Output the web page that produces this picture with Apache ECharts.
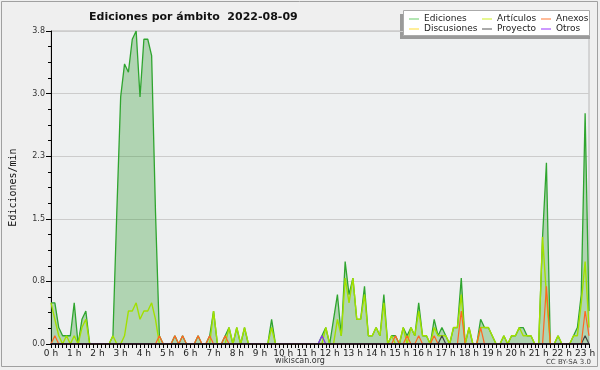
<!DOCTYPE html>
<html>
<head>
<meta charset="utf-8">
<script src="https://cdn.jsdelivr.net/npm/echarts@6/dist/echarts.min.js"></script>
<style>
html,body{margin:0;padding:0;background:#efefef;}
#c{width:600px;height:370px;}
</style>
</head>
<body>
<div id="c"></div>
<script>
// 10-minute steps from 0:00 to 23:10 (140 points), values in edits/min
const ediciones = [
  0.5,0.5,0.2,0.1,0.1,0.1,   // 0 h
  0.5,0,0.3,0.4,0,0,         // 1 h
  0,0,0,0,0.1,1.6,           // 2 h
  3.0,3.4,3.3,3.7,3.8,3.0,   // 3 h
  3.7,3.7,3.5,1.6,0.1,0,     // 4 h
  0,0,0.1,0,0.1,0,           // 5 h
  0,0,0.1,0,0,0.1,           // 6 h
  0.4,0,0,0.1,0.2,0,         // 7 h
  0.2,0,0.2,0,0,0,           // 8 h
  0,0,0,0.3,0,0,             // 9 h
  0,0,0,0,0,0,               // 10 h
  0,0,0,0,0.1,0.2,           // 11 h
  0,0.3,0.6,0.1,1.0,0.6,     // 12 h
  0.8,0.3,0.3,0.7,0.1,0.1,   // 13 h
  0.2,0.1,0.6,0,0.1,0.1,     // 14 h
  0,0.2,0.1,0.2,0.1,0.5,     // 15 h
  0.1,0.1,0,0.3,0.1,0.2,     // 16 h
  0.1,0,0.2,0.2,0.8,0,       // 17 h
  0.2,0,0,0.3,0.2,0.2,       // 18 h
  0.1,0,0,0.1,0,0.1,         // 19 h
  0.1,0.2,0.2,0.1,0.1,0,     // 20 h
  0,1.3,2.2,0,0,0.1,         // 21 h
  0,0,0,0.1,0.2,0.6,         // 22 h
  2.8,0.4                    // 23 h
];
const articulos = [
  0.5,0.3,0.1,0,0.1,0,       // 0 h
  0.1,0,0.2,0.3,0,0,         // 1 h
  0,0,0,0,0.1,0,             // 2 h
  0,0.1,0.4,0.4,0.5,0.3,     // 3 h
  0.4,0.4,0.5,0.3,0,0,       // 4 h
  0,0,0,0,0,0,               // 5 h
  0,0,0,0,0,0,               // 6 h
  0.4,0,0,0,0.2,0,           // 7 h
  0.2,0,0.2,0,0,0,           // 8 h
  0,0,0,0.2,0,0,             // 9 h
  0,0,0,0,0,0,               // 10 h
  0,0,0,0,0,0.2,             // 11 h
  0,0,0.3,0.1,0.8,0.5,       // 12 h
  0.8,0.3,0.3,0.6,0.1,0.1,   // 13 h
  0.2,0.1,0.5,0,0.1,0,       // 14 h
  0,0.2,0,0.2,0.1,0.4,       // 15 h
  0.1,0.1,0,0.2,0.1,0.1,     // 16 h
  0.1,0,0.2,0.2,0.6,0,       // 17 h
  0.2,0,0,0.2,0.2,0.2,       // 18 h
  0.1,0,0,0.1,0,0.1,         // 19 h
  0.1,0.2,0.1,0.1,0.1,0,     // 20 h
  0,1.3,0.6,0,0,0.1,         // 21 h
  0,0,0,0.1,0.1,0.5,         // 22 h
  1.0,0.2                    // 23 h
];
const anexos = [
  0,0.1,0,0,0,0,             // 0 h
  0,0,0,0,0,0,               // 1 h
  0,0,0,0,0,0,               // 2 h
  0,0,0,0,0,0,               // 3 h
  0,0,0,0,0.1,0,             // 4 h
  0,0,0.1,0,0.1,0,           // 5 h
  0,0,0.1,0,0,0.1,           // 6 h
  0,0,0,0.1,0,0,             // 7 h
  0,0,0,0,0,0,               // 8 h
  0,0,0,0,0,0,               // 9 h
  0,0,0,0,0,0,               // 10 h
  0,0,0,0,0,0,               // 11 h
  0,0,0,0,0,0,               // 12 h
  0,0,0,0,0,0,               // 13 h
  0,0,0,0,0,0.1,             // 14 h
  0,0,0.1,0,0,0.1,           // 15 h
  0,0,0,0.1,0,0,             // 16 h
  0,0,0,0,0.4,0,             // 17 h
  0,0,0,0.2,0,0,             // 18 h
  0,0,0,0,0,0,               // 19 h
  0,0,0,0,0,0,               // 20 h
  0,0,0.7,0,0,0,             // 21 h
  0,0,0,0,0,0,               // 22 h
  0.4,0.1                    // 23 h
];
const discusiones = [
  0,0,0,0,0,0,  0,0,0,0,0,0,  0,0,0,0,0,0,  0,0,0,0,0,0,   // 0-3 h
  0,0,0,0,0,0,  0,0,0,0,0,0,  0,0,0,0,0,0,  0,0,0,0,0,0,   // 4-7 h
  0,0,0,0,0,0,  0,0,0,0,0,0,  0,0,0,0,0,0,  0,0,0,0,0,0,   // 8-11 h
  0,0,0,0,0,0,  0,0,0,0,0,0,  0,0,0,0,0,0,  0,0,0,0,0,0,   // 12-15 h
  0,0,0,0,0,0,  0,0,0,0,0,0,  0,0,0,0,0,0,  0,0,0,0,0,0,   // 16-19 h
  0,0,0,0,0,0,  0,0,0,0,0,0,  0,0,0,0,0,0,                 // 20-22 h
  0,0                                                     // 23 h
];
const proyecto = [
  0,0,0,0,0,0,  0,0,0,0,0,0,  0,0,0,0,0,0,  0,0,0,0,0,0,   // 0-3 h
  0,0,0,0,0,0,  0,0,0,0,0,0,  0,0,0,0,0,0,  0,0,0,0,0,0,   // 4-7 h
  0,0,0,0,0,0,  0,0,0,0,0,0,  0,0,0,0,0,0,  0,0,0,0,0,0,   // 8-11 h
  0,0,0,0,0,0,  0,0,0,0,0,0,  0,0,0,0,0,0,  0,0,0,0,0,0,   // 12-15 h
  0,0,0,0,0,0.1,0,0,0,0,0,0,  0,0,0,0,0,0,  0,0,0,0,0,0,   // 16-19 h
  0,0,0,0,0,0,  0,0,0,0,0,0,  0,0,0,0,0,0,                 // 20-22 h
  0.1,0                                                   // 23 h
];
const otros = [
  0,0,0,0,0,0,  0,0,0,0,0,0,  0,0,0,0,0,0,  0,0,0,0,0,0,   // 0-3 h
  0,0,0,0,0,0,  0,0,0,0,0,0,  0,0,0,0,0,0,  0,0,0,0,0,0,   // 4-7 h
  0,0,0,0,0,0,  0,0,0,0,0,0,  0,0,0,0,0,0,  0,0,0,0,0.1,0, // 8-11 h
  0,0,0,0,0,0,  0,0,0,0,0,0,  0,0,0,0,0,0,  0,0,0,0,0,0,   // 12-15 h
  0,0,0,0,0,0,  0,0,0,0,0,0,  0,0,0,0,0,0,  0,0,0,0,0,0,   // 16-19 h
  0,0,0,0,0,0,  0,0,0,0,0,0,  0,0,0,0,0,0,                 // 20-22 h
  0,0                                                     // 23 h
];
const seriesNames = ['Ediciones','Artículos','Anexos','Discusiones','Proyecto','Otros'];

const times = [];
for (let i = 0; i < ediciones.length; i++) {
  const h = Math.floor(i / 6), m = (i % 6) * 10;
  times.push(h + ':' + (m < 10 ? '0' + m : m));
}

const FONT = 'DejaVu Sans';
const chart = echarts.init(document.getElementById('c'), null, {renderer: 'canvas'});

function lineSeries(name, data, color, z, width) {
  return {
    name, type: 'line', data, symbol: 'none', z,
    lineStyle: {color, width: width || 1},
    itemStyle: {color},
    emphasis: {disabled: true}, animation: false
  };
}
const eSeries = lineSeries(seriesNames[0], ediciones, '#2fa52f', 2, 1.3);
eSeries.areaStyle = {color: 'rgba(45,150,45,0.45)'};

function legendCol(left, names, colors) {
  return {
    left, top: 14, orient: 'vertical', itemGap: 0, itemWidth: 10, itemHeight: 1,
    icon: 'rect', selectedMode: false,
    data: names.map((n, k) => ({name: n, itemStyle: {color: colors[k]}})),
    textStyle: {fontFamily: FONT, fontSize: 9, color: '#222', lineHeight: 10, padding: [0, 0, 0, 0]},
    padding: 0
  };
}

chart.setOption({
  backgroundColor: '#efefef',
  animation: false,
  title: {
    text: 'Ediciones por ámbito  2022-08-09',
    left: 84, top: 7,
    textStyle: {fontFamily: FONT, fontWeight: 'bold', fontSize: 11, color: '#111'}
  },
  legend: [
    legendCol(409, ['Ediciones', 'Discusiones'], ['#66cc66', '#ffdd33']),
    legendCol(482, ['Artículos', 'Proyecto'], ['#ccee22', '#555555']),
    legendCol(541, ['Anexos', 'Otros'], ['#ff7733', '#9933ff'])
  ],
  grid: {
    left: 46, top: 31, right: 11, bottom: 26,
    show: true, backgroundColor: '#eef0f1', borderColor: '#b8b8b8', borderWidth: 1
  },
  xAxis: {
    type: 'category', data: times, boundaryGap: false, z: 10,
    axisLine: {lineStyle: {color: '#000', width: 1.5}},
    axisTick: {show: true, interval: 0, length: 4, lineStyle: {color: '#000'}},
    axisLabel: {
      interval: 5, fontFamily: FONT, fontSize: 9, color: '#222', margin: 5,
      formatter: (v) => v.split(':')[0] + ' h'
    },
    splitLine: {show: false}
  },
  yAxis: {
    type: 'value', min: 0, max: 3.8, interval: 0.76,
    name: 'Ediciones/min', nameLocation: 'middle', nameGap: 33,
    nameTextStyle: {fontFamily: 'DejaVu Sans Mono', fontSize: 10, color: '#111'},
    axisLine: {show: true, lineStyle: {color: '#000', width: 1}},
    axisTick: {show: true, length: 5, lineStyle: {color: '#000'}},
    minorTick: {show: true, splitNumber: 4, length: 3, lineStyle: {color: '#000'}},
    axisLabel: {fontFamily: FONT, fontSize: 8, color: '#333', margin: 6,
      formatter: (v) => v.toFixed(1)},
    splitLine: {show: true, lineStyle: {color: '#cccccc', width: 1}}
  },
  series: [
    eSeries,
    lineSeries(seriesNames[1], articulos, '#a2e000', 3, 1.4),
    lineSeries(seriesNames[2], anexos, '#ff6622', 5, 1.2),
    lineSeries(seriesNames[3], discusiones, '#ffdd33', 3),
    lineSeries(seriesNames[4], proyecto, '#444444', 4, 1.2),
    lineSeries(seriesNames[5], otros, '#8833ee', 6, 1.2)
  ],
  graphic: [
    {type: 'rect', z: -1, silent: true, shape: {x: 1.5, y: 1.5, width: 596, height: 365},
      style: {fill: null, stroke: '#a0a0a0', lineWidth: 1}},
    {type: 'rect', z: 0, silent: true, shape: {x: 400, y: 14, width: 190, height: 25},
      style: {fill: '#9a9a9a'}},
    {type: 'rect', z: 1, silent: true, shape: {x: 403.5, y: 10.5, width: 186, height: 25},
      style: {fill: '#ffffff', stroke: '#aaaaaa', lineWidth: 1}},
    {type: 'text', z: 5, silent: true, style: {x: 300, y: 361, text: 'wikiscan.org',
      textAlign: 'center', textVerticalAlign: 'middle', font: '8px "DejaVu Sans"', fill: '#333'}},
    {type: 'text', z: 5, silent: true, style: {x: 591, y: 362, text: 'CC BY-SA 3.0',
      textAlign: 'right', textVerticalAlign: 'middle', font: '7px "DejaVu Sans"', fill: '#444'}}
  ]
});
</script>
</body>
</html>
